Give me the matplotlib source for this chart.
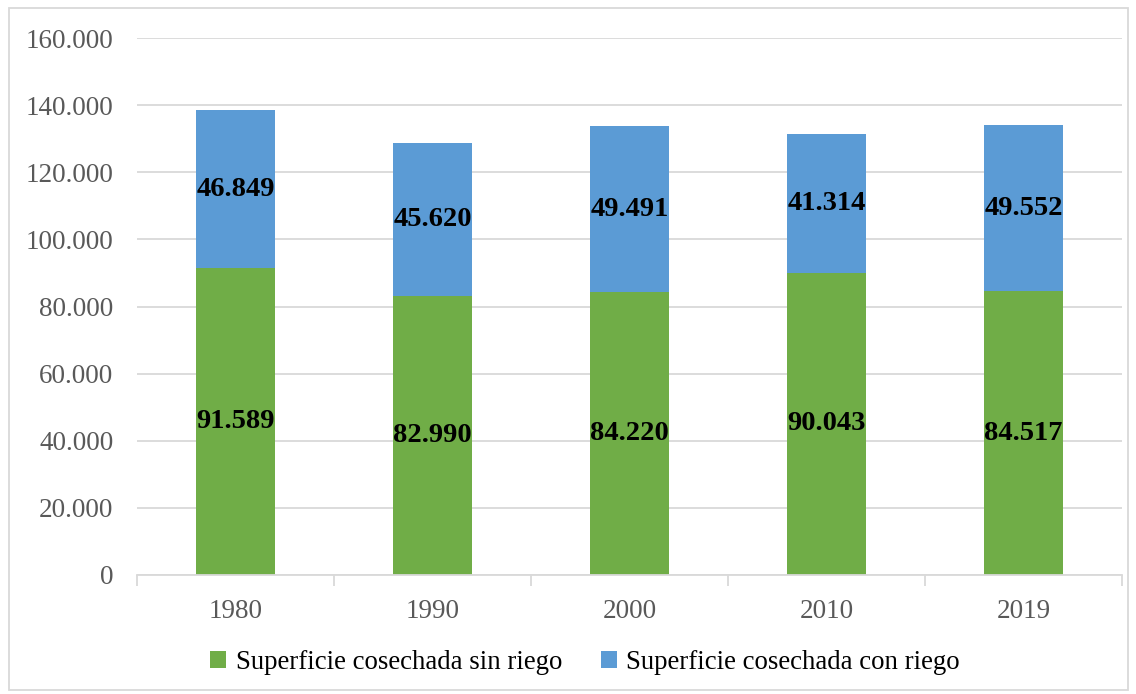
import matplotlib
matplotlib.use("Agg")
import matplotlib.pyplot as plt
import numpy as np
from matplotlib.patches import Rectangle
from matplotlib.ticker import FuncFormatter

plt.rcParams['font.family'] = ['Liberation Serif', 'DejaVu Serif']

years = ['1980', '1990', '2000', '2010', '2019']
sin_riego = [91589, 82990, 84220, 90043, 84517]
con_riego = [46849, 45620, 49491, 41314, 49552]

GREEN = '#70ad47'
BLUE = '#5b9bd5'
GRID = '#d9d9d9'
TXT = '#595959'


def miles(v):
    return f"{int(v):,}".replace(",", ".")


fig = plt.figure(figsize=(11.36, 6.94), dpi=100)
ax = fig.add_axes([0.1206, 0.1715, 0.8671, 0.7737])

x = np.arange(len(years))
width = 0.40
b1 = ax.bar(x, sin_riego, width, color=GREEN, label='Superficie cosechada sin riego', zorder=3)
b2 = ax.bar(x, con_riego, width, bottom=sin_riego, color=BLUE,
            label='Superficie cosechada con riego', zorder=3)

for rect, v in zip(b1, sin_riego):
    ax.text(rect.get_x() + rect.get_width() / 2, v / 2, miles(v),
            ha='center', va='center', fontsize=20.5, fontweight='bold', color='black', zorder=4)
for rect, base, v in zip(b2, sin_riego, con_riego):
    ax.text(rect.get_x() + rect.get_width() / 2, base + v / 2, miles(v),
            ha='center', va='center', fontsize=20.5, fontweight='bold', color='black', zorder=4)

ax.set_xlim(-0.5, len(years) - 0.5)
ax.set_ylim(0, 160000)
ax.set_yticks(np.arange(0, 160001, 20000))
ax.yaxis.set_major_formatter(FuncFormatter(lambda v, p: miles(v)))
ax.grid(axis='y', color=GRID, linewidth=1.3, zorder=0)

ax.set_xticks(x)
ax.set_xticklabels(years)
ax.set_xticks(np.arange(-0.5, len(years), 1), minor=True)
ax.tick_params(axis='x', which='major', length=0, pad=17, labelsize=19.5, labelcolor=TXT)
ax.tick_params(axis='x', which='minor', length=8, width=1.3, color=GRID, direction='out')
ax.tick_params(axis='y', length=0, pad=17, labelsize=19.5, labelcolor=TXT)

for s in ['top', 'right', 'left']:
    ax.spines[s].set_visible(False)
ax.spines['bottom'].set_color(GRID)
ax.spines['bottom'].set_linewidth(1.3)
ax.spines['bottom'].set_zorder(5)

leg = fig.legend(handles=[b1, b2], loc='center', bbox_to_anchor=(0.515, 0.045), ncol=2,
                 frameon=False, fontsize=19.3, handlelength=0.6, handleheight=0.6,
                 handletextpad=0.35, columnspacing=1.45)

fig.patches.append(Rectangle((0.008, 0.006), 0.985, 0.982, transform=fig.transFigure,
                             fill=False, edgecolor=GRID, linewidth=1.3))

plt.savefig('out.png', dpi=100)
